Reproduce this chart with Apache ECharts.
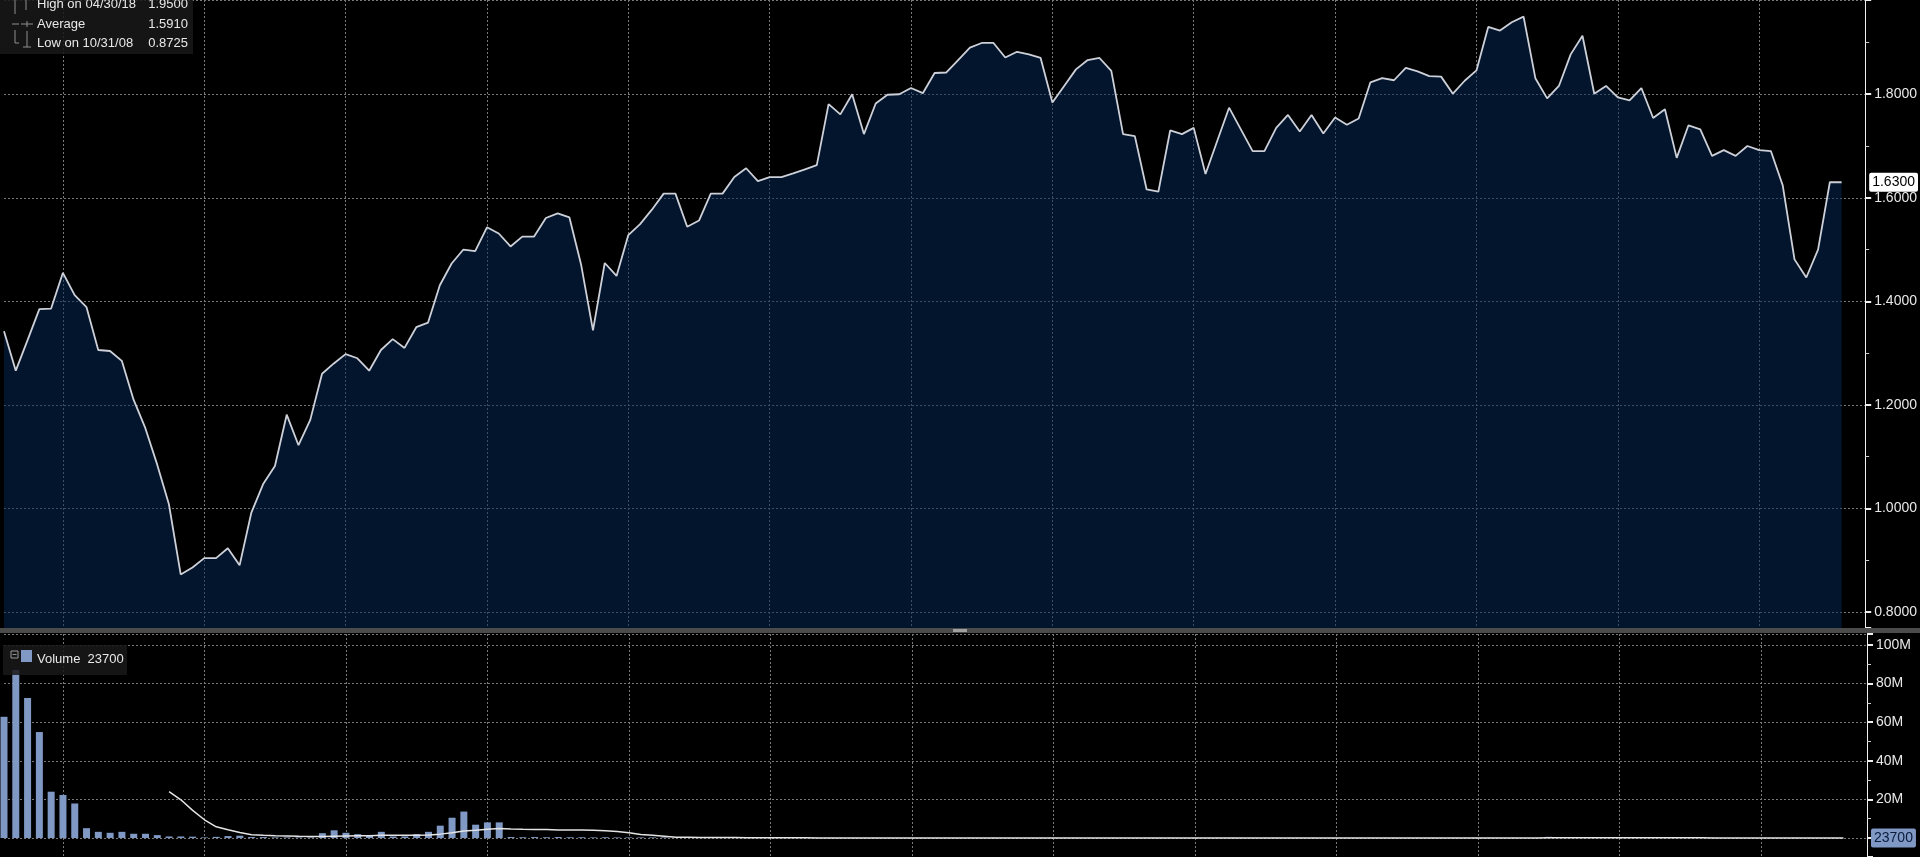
<!DOCTYPE html>
<html>
<head>
<meta charset="utf-8">
<script src="https://cdn.jsdelivr.net/npm/echarts@6/dist/echarts.min.js"></script>
<style>
html,body{margin:0;padding:0;background:#000;overflow:hidden;}
#c{width:1920px;height:857px;}
</style>
</head>
<body>
<div id="c"></div>
<script>
// ---- data (monthly, first point = end of July 2007) ----
const startYear = 2007;
const startMonth = 7;
const padCategories = 2;

const price = [
  1.342, 1.266, 1.325, 1.385, 1.386, 1.455, 1.412, 1.389, 1.306, 1.304,
  1.285, 1.210, 1.155, 1.085, 1.008, 0.8725, 0.886, 0.904, 0.904, 0.923,
  0.890, 0.992, 1.047, 1.082, 1.181, 1.122, 1.171, 1.260, 1.280, 1.298,
  1.290, 1.266, 1.306, 1.327, 1.310, 1.350, 1.359, 1.431, 1.473, 1.500,
  1.497, 1.543, 1.531, 1.506, 1.525, 1.525, 1.561, 1.570, 1.562, 1.470,
  1.344, 1.474, 1.449, 1.528, 1.549, 1.577, 1.608, 1.608, 1.544, 1.556,
  1.608, 1.608, 1.640, 1.657, 1.632, 1.640, 1.640, 1.647, 1.655, 1.663,
  1.781, 1.761, 1.800, 1.723, 1.782, 1.799, 1.800, 1.812, 1.802, 1.841,
  1.842, 1.866, 1.890, 1.899, 1.899, 1.871, 1.882, 1.877, 1.870, 1.784,
  1.816, 1.848, 1.866, 1.870, 1.845, 1.723, 1.719, 1.616, 1.612, 1.730,
  1.723, 1.735, 1.646, 1.710, 1.774, 1.732, 1.690, 1.690, 1.735, 1.760,
  1.728, 1.760, 1.724, 1.755, 1.741, 1.753, 1.823, 1.831, 1.827, 1.851,
  1.844, 1.835, 1.834, 1.801, 1.826, 1.846, 1.930, 1.923, 1.939, 1.950,
  1.831, 1.792, 1.816, 1.877, 1.913, 1.801, 1.816, 1.794, 1.788, 1.812,
  1.754, 1.771, 1.677, 1.740, 1.732, 1.681, 1.692, 1.681, 1.700, 1.692,
  1.690, 1.624, 1.481, 1.446, 1.500, 1.630, 1.630
];

// volume in millions
const volumeM = [
  62.8, 87, 72.6, 54.9, 24.0, 22.3, 17.9, 5.1, 3.2, 2.7,
  3.2, 2.2, 2.2, 1.5, 0.8, 0.8, 0.7, 0.3, 0.6, 1.0,
  1.2, 0.5, 0.5, 0.3, 0.3, 0.3, 0.3, 2.5, 4.0, 2.7,
  2.0, 1.4, 3.2, 0.8, 0.8, 2.0, 3.2, 6.4, 10.5, 13.7,
  6.9, 8.1, 8.1, 0.5, 0.4, 0.5, 0.4, 0.5, 0.4, 0.4,
  0.3, 0.4, 0.3, 0.3, 0.3, 0.3, 0.3,
  0.08, 0.06, 0.05, 0.07, 0.05, 0.04, 0.06, 0.05, 0.04, 0.05,
  0.04, 0.05, 0.06, 0.09, 0.07, 0.06, 0.05, 0.07, 0.05, 0.04,
  0.05, 0.04, 0.06, 0.05, 0.04, 0.05, 0.04, 0.04, 0.06, 0.05,
  0.04, 0.05, 0.08, 0.06, 0.05, 0.04, 0.04, 0.05, 0.07, 0.05,
  0.08, 0.05, 0.06, 0.04, 0.05, 0.06, 0.05, 0.06, 0.05, 0.04,
  0.04, 0.05, 0.04, 0.05, 0.04, 0.04, 0.05, 0.04, 0.05, 0.06,
  0.05, 0.04, 0.05, 0.04, 0.05, 0.04, 0.06, 0.05, 0.05, 0.07,
  0.05, 0.06, 0.08, 0.07, 0.60, 0.09, 0.06, 0.05, 0.06, 0.05,
  0.04, 0.05, 0.04, 0.05, 0.04, 0.06, 0.04, 0.04, 0.05, 0.04,
  0.04, 0.03, 0.04, 0.03, 0.04, 0.05, 0.04, 0.03, 0.03, 0.0237
];

// volume moving average (millions)
const volumeAvgM = [
  null, null, null, null, null, null, null, null, null, null, null, null, null, null,
  24.0, 19.8, 14.3, 9.45, 5.8, 4.3, 2.9, 1.73, 1.43, 1.23,
  1.07, 0.88, 0.75, 0.77, 0.94, 1.07, 1.15, 1.19, 1.39, 1.40,
  1.39, 1.44, 1.62, 2.01, 2.69, 3.59, 4.03, 4.55, 4.92, 4.68,
  4.52, 4.42, 4.35, 4.17, 4.14, 4.11, 4.00, 3.81, 3.41, 2.73,
  1.84, 1.40, 0.88, 0.36,
  0.33, 0.30, 0.27, 0.25, 0.22, 0.19, 0.17, 0.15, 0.12, 0.10,
  0.08, 0.06, 0.06, 0.06, 0.06, 0.06, 0.06, 0.06, 0.05, 0.05,
  0.05, 0.05, 0.05, 0.05, 0.05, 0.05, 0.05, 0.05, 0.05, 0.05,
  0.05, 0.05, 0.05, 0.05, 0.05, 0.05, 0.05, 0.05, 0.05, 0.05,
  0.06, 0.06, 0.06, 0.06, 0.06, 0.05, 0.05, 0.05, 0.05, 0.05,
  0.05, 0.05, 0.05, 0.05, 0.05, 0.05, 0.05, 0.05, 0.05, 0.05,
  0.05, 0.05, 0.05, 0.05, 0.05, 0.05, 0.05, 0.05, 0.05, 0.05,
  0.05, 0.06, 0.06, 0.09, 0.09, 0.09, 0.09, 0.09, 0.09, 0.09,
  0.09, 0.09, 0.09, 0.09, 0.09, 0.09, 0.09, 0.05, 0.05, 0.05,
  0.04, 0.04, 0.04, 0.04, 0.04, 0.04, 0.04, 0.04, 0.04
];

const statRows = [
  ['High on 04/30/18', '1.9500'],
  ['Average', '1.5910'],
  ['Low on 10/31/08', '0.8725']
];
const volumeLegendLabel = 'Volume';

// ---- categories: month-end dates ----
const categories = [];
for (let k = 0; k < price.length + padCategories; k++) {
  const m0 = startMonth - 1 + k;
  const y = startYear + Math.floor(m0 / 12);
  const m = (m0 % 12) + 1;
  const d = new Date(Date.UTC(y, m, 0)).getUTCDate();
  categories.push(String(m).padStart(2, '0') + '/' + d + '/' + String(y).slice(2));
}

const FONT = '"Liberation Sans", Arial, sans-serif';
const gridLine = { color: '#7a7a7a', width: 1, type: [2, 2] };
const yearSplit = (idx, val) => typeof val === 'string' && val.indexOf('12/') === 0;

const lastPrice = price[price.length - 1];
const lastVolRaw = Math.round(volumeM[volumeM.length - 1] * 1e6);

const xAxisCommon = {
  type: 'category',
  data: categories,
  boundaryGap: false,
  axisLine: { show: false },
  axisTick: { show: false },
  axisLabel: { show: false },
  splitLine: { show: true, interval: yearSplit, lineStyle: gridLine }
};

const chart = echarts.init(document.getElementById('c'), null, { renderer: 'canvas' });

const legendText = (text, x, y, align) => ({
  type: 'text', z: 101,
  style: {
    text: text, x: x, y: y, fill: '#e8e8e8',
    font: '13px ' + FONT,
    align: align, verticalAlign: 'middle',
    textAlign: align, textVerticalAlign: 'middle'
  }
});
const seg = (x1, y1, x2, y2) => ({
  type: 'line', z: 101,
  shape: { x1: x1, y1: y1, x2: x2, y2: y2 },
  style: { stroke: '#8f8f8f', lineWidth: 1 }
});

const rowY = [4, 24, 43];

chart.setOption({
  backgroundColor: '#000',
  animation: false,
  grid: [
    { left: 4, right: 53, top: 0, height: 628 },
    { left: 4, right: 53, top: 634, bottom: 0 }
  ],
  xAxis: [
    Object.assign({ gridIndex: 0 }, xAxisCommon),
    Object.assign({ gridIndex: 1 }, xAxisCommon)
  ],
  yAxis: [
    {
      gridIndex: 0, type: 'value', position: 'right',
      min: 0.769, max: 1.982, minInterval: 0.2, maxInterval: 0.2, splitNumber: 6,
      axisLine: { show: true, lineStyle: { color: '#f0f0f0', width: 1 } },
      axisTick: { show: true, length: 6, lineStyle: { color: '#f0f0f0', width: 2 } },
      minorTick: { show: true, splitNumber: 2, length: 4, lineStyle: { color: '#cfcfcf', width: 1 } },
      axisLabel: {
        margin: 9, color: '#e8e8e8', fontSize: 14, fontFamily: FONT,
        showMinLabel: false, showMaxLabel: false,
        formatter: v => v.toFixed(4)
      },
      splitLine: { show: true, lineStyle: gridLine }
    },
    {
      gridIndex: 1, type: 'value', position: 'right',
      min: -9.84e6, max: 105.7e6, minInterval: 20e6, maxInterval: 20e6, splitNumber: 6,
      axisLine: { show: true, lineStyle: { color: '#f0f0f0', width: 1 } },
      axisTick: { show: true, length: 6, lineStyle: { color: '#f0f0f0', width: 2 } },
      minorTick: { show: true, splitNumber: 2, length: 4, lineStyle: { color: '#cfcfcf', width: 1 } },
      axisLabel: {
        margin: 9, color: '#e8e8e8', fontSize: 14, fontFamily: FONT,
        showMinLabel: false, showMaxLabel: false,
        formatter: v => (v <= 0 ? '' : Math.round(v / 1e6) + 'M')
      },
      splitLine: { show: true, lineStyle: gridLine }
    }
  ],
  series: [
    {
      name: 'Price', type: 'line', xAxisIndex: 0, yAxisIndex: 0,
      data: price, symbol: 'none', z: 3,
      lineStyle: { color: '#cdd0d8', width: 1.8 },
      areaStyle: { color: 'rgba(4,40,84,0.76)', origin: 'start' },
      markLine: {
        silent: true, symbol: ['none', 'none'],
        lineStyle: { color: 'rgba(0,0,0,0)', width: 0 },
        label: {
          show: true, position: 'end', distance: 4,
          formatter: lastPrice.toFixed(4),
          color: '#000', backgroundColor: '#ffffff', borderRadius: 2,
          padding: [3, 3, 2, 3], fontSize: 14, fontFamily: FONT
        },
        data: [{ yAxis: lastPrice }]
      }
    },
    {
      name: 'Volume', type: 'bar', xAxisIndex: 1, yAxisIndex: 1,
      data: volumeM.map(v => v * 1e6), barWidth: 7, z: 2,
      itemStyle: { color: '#7f98c4' },
      markLine: {
        silent: true, symbol: ['none', 'none'],
        lineStyle: { color: 'rgba(0,0,0,0)', width: 0 },
        label: {
          show: true, position: 'end', distance: 4,
          formatter: String(lastVolRaw),
          color: '#0b1c3c', backgroundColor: '#7f98c4', borderRadius: 2,
          padding: [3, 3, 2, 3], fontSize: 14, fontFamily: FONT
        },
        data: [{ yAxis: 0 }]
      }
    },
    {
      name: 'Volume average', type: 'line', xAxisIndex: 1, yAxisIndex: 1,
      data: volumeAvgM.map(v => (v == null ? null : v * 1e6)),
      symbol: 'none', z: 4,
      lineStyle: { color: '#e4e4e4', width: 1.5 }
    }
  ],
  graphic: [
    // panel separator
    { type: 'rect', z: 100, shape: { x: 0, y: 628, width: 1920, height: 5 }, style: { fill: '#4b4b4b' } },
    { type: 'rect', z: 101, shape: { x: 953, y: 629, width: 14, height: 3 }, style: { fill: '#a0a0a0' } },
    // stats legend box
    { type: 'rect', z: 100, shape: { x: 0, y: -4, width: 193, height: 58 }, style: { fill: 'rgba(24,24,24,0.86)' } },
    legendText(statRows[0][0], 37, rowY[0], 'left'),
    legendText(statRows[0][1], 188, rowY[0], 'right'),
    legendText(statRows[1][0], 37, rowY[1], 'left'),
    legendText(statRows[1][1], 188, rowY[1], 'right'),
    legendText(statRows[2][0], 37, rowY[2], 'left'),
    legendText(statRows[2][1], 188, rowY[2], 'right'),
    seg(15, 0, 15, 14), seg(12, 24, 19, 24), seg(15, 30, 15, 43), seg(15, 43, 19, 43),
    seg(26, 0, 26, 10), seg(21, 24, 33, 24), seg(27, 21, 27, 27),
    seg(27, 31, 27, 47), seg(23, 47, 31, 47),
    // volume legend box
    { type: 'rect', z: 100, shape: { x: 3, y: 645, width: 124, height: 30 }, style: { fill: 'rgba(24,24,24,0.86)' } },
    { type: 'rect', z: 101, shape: { x: 11, y: 651, width: 7, height: 7 }, style: { fill: 'none', stroke: '#9a9a9a', lineWidth: 1 } },
    seg(12.5, 654.5, 16.5, 654.5),
    { type: 'rect', z: 101, shape: { x: 21, y: 650, width: 11, height: 12 }, style: { fill: '#7f98c4' } },
    legendText(volumeLegendLabel + '  ' + lastVolRaw, 37, 659, 'left')
  ]
});
</script>
</body>
</html>
